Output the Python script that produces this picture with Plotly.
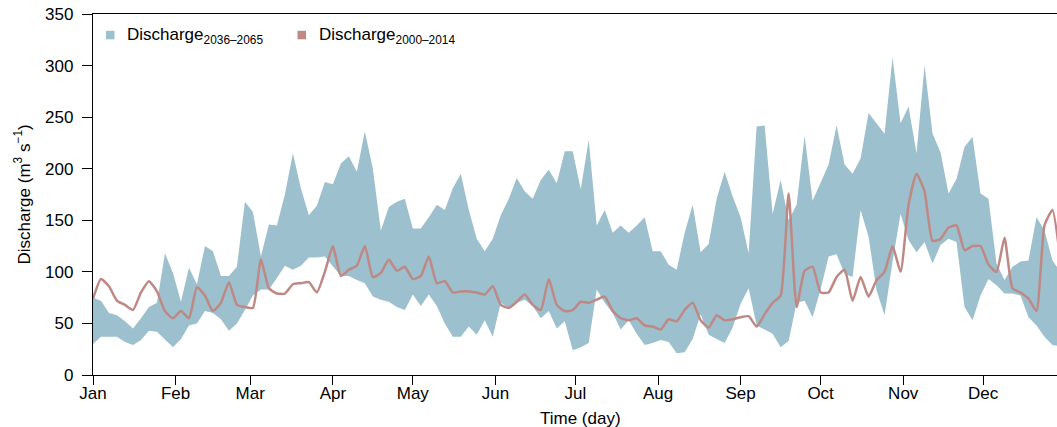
import plotly.graph_objects as go

# day of year (3-day sampling)
days = list(range(0, 364, 3))

upper_2036_2065 = [
    75, 72, 60, 58, 52, 45, 55, 66, 70, 118, 99, 71, 104, 88, 125, 120, 96, 96, 105, 168,
    158, 115, 146, 145, 175, 215, 181, 155, 164, 187, 185, 205, 212, 197, 236, 200, 140, 163, 168, 171,
    142, 142, 153, 165, 160, 181, 195, 160, 132, 120, 132, 155, 171, 191, 178, 171, 189, 199, 186, 217,
    217, 180, 228, 145, 160, 138, 145, 138, 145, 153, 120, 120, 107, 102, 138, 165, 119, 127, 171, 197,
    173, 153, 118, 241, 242, 156, 189, 150, 165, 232, 169, 187, 204, 242, 204, 195, 210, 254, 244, 234,
    308, 244, 260, 215, 300, 234, 216, 176, 190, 221, 231, 176, 171, 108, 92, 105, 110, 111, 153, 140,
    111, 100,
]

lower_2036_2065 = [
    30, 37, 37, 37, 32, 29, 34, 43, 42, 34, 27, 35, 48, 50, 62, 60, 54, 43, 50, 63,
    77, 83, 83, 94, 106, 102, 106, 114, 114, 115, 106, 96, 96, 92, 89, 76, 73, 71, 66, 63,
    78, 67, 78, 67, 50, 37, 37, 47, 39, 53, 37, 70, 65, 70, 73, 67, 55, 62, 45, 52,
    24, 27, 31, 83, 70, 60, 44, 53, 40, 29, 31, 34, 32, 21, 22, 35, 59, 39, 35, 31,
    46, 69, 84, 48, 44, 40, 27, 33, 70, 72, 56, 83, 115, 117, 98, 95, 160, 134, 82, 58,
    110, 156, 131, 119, 129, 108, 126, 132, 129, 66, 53, 77, 93, 87, 79, 79, 77, 56, 48, 37,
    29, 28,
]

discharge_2000_2014 = [
    74, 93, 86, 72, 68, 63, 80, 91, 81, 62, 55, 62, 55, 85, 77, 62, 70, 90, 68, 66,
    65, 112, 84, 79, 79, 88, 89, 90, 80, 100, 125, 96, 102, 106, 125, 95, 99, 112, 101, 105,
    93, 96, 115, 89, 91, 80, 81, 81, 80, 78, 86, 68, 65, 71, 78, 68, 63, 93, 68, 62,
    63, 71, 70, 73, 76, 62, 55, 53, 55, 48, 47, 44, 54, 52, 63, 70, 53, 46, 58, 53,
    54, 56, 57, 47, 59, 70, 77, 176, 66, 101, 105, 80, 80, 95, 102, 72, 95, 76, 92, 100,
    125, 100, 165, 195, 178, 130, 132, 143, 145, 121, 125, 125, 107, 100, 133, 84, 80, 74, 62, 145,
    160, 110,
]

month_days = [0, 31, 59, 90, 120, 151, 181, 212, 243, 273, 304, 334]
month_labels = ["Jan", "Feb", "Mar", "Apr", "May", "Jun", "Jul", "Aug", "Sep", "Oct", "Nov", "Dec"]
y_ticks = [0, 50, 100, 150, 200, 250, 300, 350]
legend_labels = ["Discharge<sub>2036\u20132065</sub>", "Discharge<sub>2000\u20132014</sub>"]

BLUE = "rgb(156,192,205)"
RED = "rgb(190,137,133)"
FONT = "Liberation Sans, Arial, Helvetica, sans-serif"

# plot-area geometry in pixels (for placing the hand-made legend)
L, R, T, B = 93, 1057, 14, 375


def px(xp):
    return (xp - L) / (R - L)


def py(yp):
    return (B - yp) / (B - T)


fig = go.Figure()
fig.add_trace(go.Scatter(x=days, y=lower_2036_2065, mode="lines", line=dict(width=0, color=BLUE),
                         showlegend=False, hoverinfo="skip", name="min 2036-2065"))
fig.add_trace(go.Scatter(x=days, y=upper_2036_2065, mode="lines", line=dict(width=0, color=BLUE),
                         fill="tonexty", fillcolor=BLUE, showlegend=False, hoverinfo="skip",
                         name="max 2036-2065"))
fig.add_trace(go.Scatter(x=days, y=discharge_2000_2014, mode="lines",
                         line=dict(width=2.5, color=RED, shape="spline", smoothing=0.5),
                         showlegend=False, name="Discharge 2000-2014"))

legend_items = [(106, 125, BLUE, legend_labels[0]), (297.5, 317, RED, legend_labels[1])]
shapes = []
annotations = []
for sx, tx, col, lab in legend_items:
    shapes.append(dict(type="rect", xref="paper", yref="paper",
                       x0=px(sx), x1=px(sx + 8.5), y0=py(39.3), y1=py(30.8),
                       fillcolor=col, line=dict(width=0)))
    annotations.append(dict(text=lab, x=px(tx), y=py(35.5), xref="paper", yref="paper",
                            xanchor="left", yanchor="middle", showarrow=False,
                            font=dict(size=17)))

annotations.append(dict(text="Time (day)", x=px(580), y=py(418), xref="paper", yref="paper",
                        xanchor="center", yanchor="middle", showarrow=False, font=dict(size=17)))
annotations.append(dict(text="Discharge (m<sup>3</sup> s<sup>\u22121</sup>)", x=px(22), y=0.5,
                        xref="paper", yref="paper", xanchor="center", yanchor="middle",
                        textangle=-90, showarrow=False, font=dict(size=17)))

fig.update_layout(
    width=1057, height=427,
    margin=dict(l=L, r=1057 - R, t=T, b=427 - B),
    paper_bgcolor="white", plot_bgcolor="white",
    font=dict(family=FONT, size=17, color="black"),
    showlegend=False,
    shapes=shapes,
    annotations=annotations,
)
fig.update_xaxes(range=[0, 361.7], tickvals=month_days, ticktext=month_labels,
                 showline=True, linecolor="black", linewidth=1.3, mirror=True,
                 ticks="outside", ticklen=9, tickwidth=1.2, tickcolor="black",
                 ticklabelstandoff=-7,
                 showgrid=False, zeroline=False, tickfont=dict(size=17))
fig.update_yaxes(range=[0, 350], tickvals=y_ticks,
                 showline=True, linecolor="black", linewidth=1.3,
                 ticks="outside", ticklen=10, tickwidth=1.2, tickcolor="black",
                 ticklabelstandoff=5,
                 showgrid=False, zeroline=False, tickfont=dict(size=17))

fig.write_html("out.html")
